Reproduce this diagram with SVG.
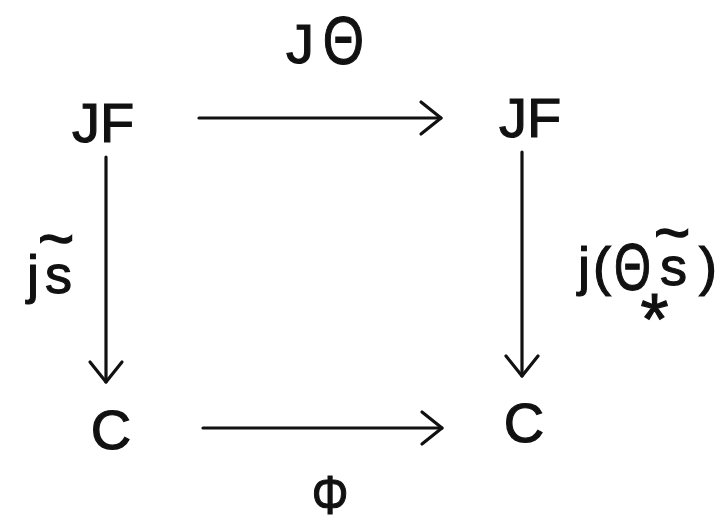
<svg xmlns="http://www.w3.org/2000/svg" width="724" height="526" viewBox="0 0 724 526">
<defs>
<style>
.n{font-family:"Liberation Sans","Arial",sans-serif;font-size:56px;fill:#111;stroke:#111;stroke-width:1.2;}
.l{font-family:"Liberation Sans","Arial",sans-serif;font-size:54px;fill:#111;stroke:#111;stroke-width:1.2;}
.t{font-family:"Liberation Sans","Arial",sans-serif;font-size:62px;fill:#111;stroke:#111;stroke-width:1.6;}
.e{stroke:#111;stroke-width:3.2;fill:none;stroke-linecap:round;}
</style>
<marker id="ah" markerUnits="userSpaceOnUse" viewBox="-24 -20 28 40" markerWidth="28" markerHeight="40" refX="0" refY="0" orient="auto" overflow="visible">
<path d="M -20,-16 L 0,0 L -20,16" fill="none" stroke="#111" stroke-width="3.2" stroke-linecap="round" stroke-linejoin="round"/>
</marker>
</defs>
<rect width="724" height="526" fill="#fff"/>
<g id="connectors">
<line id="e-top" class="e" x1="199" y1="118" x2="441" y2="118" marker-end="url(#ah)"/>
<line id="e-bottom" class="e" x1="203" y1="428" x2="442" y2="428" marker-end="url(#ah)"/>
<line id="e-left" class="e" x1="106" y1="157" x2="106" y2="382" marker-end="url(#ah)"/>
<line id="e-right" class="e" x1="522" y1="152" x2="522" y2="376" marker-end="url(#ah)"/>
</g>
<g id="node-jf-left"><text class="n" x="103" y="142" text-anchor="middle">JF</text></g>
<g id="node-jf-right"><text class="n" x="530" y="137" text-anchor="middle">JF</text></g>
<g id="node-c-left"><text class="n" x="111" y="449" text-anchor="middle">C</text></g>
<g id="node-c-right"><text class="n" x="524" y="442" text-anchor="middle">C</text></g>
<g id="label-top">
<text class="n" x="286" y="63">J</text>
<text class="n" transform="translate(343.5,64) scale(0.78,1)" x="0" y="0" text-anchor="middle" style="font-size:68px">Θ</text>
</g>
<g id="label-bottom">
<text class="n" transform="translate(330,514) scale(0.82,1)" x="0" y="0" text-anchor="middle" style="font-size:56px">Φ</text>
</g>
<g id="label-left">
<text class="l" x="27" y="293">j</text>
<text class="l" x="45" y="293">s</text>
<text class="t" x="56" y="260" text-anchor="middle">~</text>
</g>
<g id="label-right">
<text class="l" x="578" y="285">j</text>
<text class="l" x="593" y="285">(</text>
<text class="l" transform="translate(632.5,290) scale(0.72,1)" x="0" y="0" text-anchor="middle" style="font-size:66px">Θ</text>
<text class="l" x="660" y="285">s</text>
<text class="t" x="672" y="254" text-anchor="middle">~</text>
<text class="l" x="699" y="285">)</text>
<text class="l" x="654.5" y="344" text-anchor="middle" style="font-size:72px">*</text>
</g>
</svg>
